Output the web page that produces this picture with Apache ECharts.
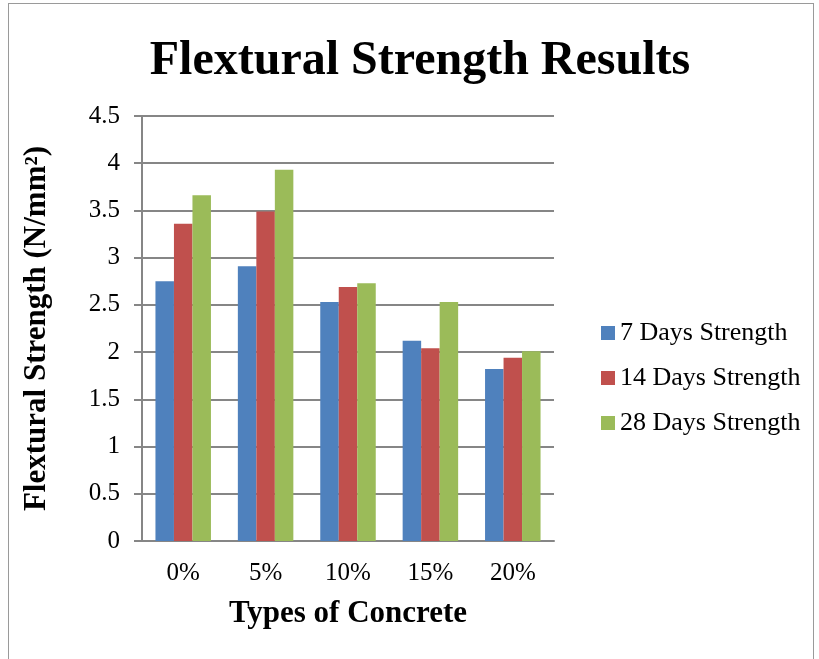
<!DOCTYPE html>
<html><head><meta charset="utf-8">
<script src="https://cdn.jsdelivr.net/npm/echarts@6/dist/echarts.min.js"></script>
<style>
html,body{margin:0;padding:0;background:#fff;}
#frame{position:absolute;left:8px;top:3px;width:806px;height:700px;border:1px solid #9a9a9a;box-sizing:border-box;}
#c{position:absolute;left:0;top:0;width:819px;height:659px;}
</style></head>
<body>
<div id="frame"></div>
<div id="c"></div>
<script>
const categories = ['0%', '5%', '10%', '15%', '20%'];
const days7 = [2.75, 2.91, 2.53, 2.12, 1.82];
const days14 = [3.36, 3.49, 2.69, 2.04, 1.94];
const days28 = [3.66, 3.93, 2.73, 2.53, 2.01];
const seriesNames = ['7 Days Strength', '14 Days Strength', '28 Days Strength'];
const yTicks = {min: 0, max: 4.5, interval: 0.5};

const font = 'Liberation Serif, Times New Roman, serif';
const chart = echarts.init(document.getElementById('c'));
const colors = ['#4F81BD', '#C0504D', '#9BBB59'];
const data = [days7, days14, days28];
chart.setOption({
  animation: false,
  title: {
    text: 'Flextural Strength Results',
    left: 415, top: 33, textAlign: 'center',
    textStyle: {fontFamily: font, fontSize: 48, fontWeight: 'bold', color: '#000'}
  },
  legend: {
    orient: 'vertical', left: 596, top: 315,
    itemWidth: 14, itemHeight: 14, itemGap: 19,
    icon: 'rect',
    textStyle: {fontFamily: font, fontSize: 26, color: '#000', padding: [0, 0, 0, 0]},
    data: seriesNames
  },
  grid: {left: 142, right: 265, top: 116, bottom: 118},
  xAxis: {
    type: 'category', data: categories,
    axisLine: {lineStyle: {color: '#868686', width: 2}},
    axisTick: {show: false},
    axisLabel: {fontFamily: font, fontSize: 25, color: '#000', margin: 20},
    name: 'Types of Concrete', nameLocation: 'middle', nameGap: 57,
    nameTextStyle: {fontFamily: font, fontSize: 31, fontWeight: 'bold', color: '#000'}
  },
  yAxis: {
    type: 'value', min: yTicks.min, max: yTicks.max, interval: yTicks.interval,
    axisLine: {show: true, lineStyle: {color: '#868686', width: 2}},
    axisTick: {show: true, length: 8, lineStyle: {color: '#868686', width: 2}},
    splitLine: {lineStyle: {color: '#868686', width: 2}},
    axisLabel: {fontFamily: font, fontSize: 25, color: '#000', margin: 22},
    name: 'Flextural Strength (N/mm²)', nameLocation: 'middle', nameGap: 90,
    nameTextStyle: {fontFamily: font, fontSize: 31, fontWeight: 'bold', color: '#000'}
  },
  series: seriesNames.map((n, i) => ({
    name: n, type: 'bar', data: data[i], barWidth: 18.5, barGap: '0%',
    itemStyle: {color: colors[i]}
  }))
});
</script>
</body></html>
